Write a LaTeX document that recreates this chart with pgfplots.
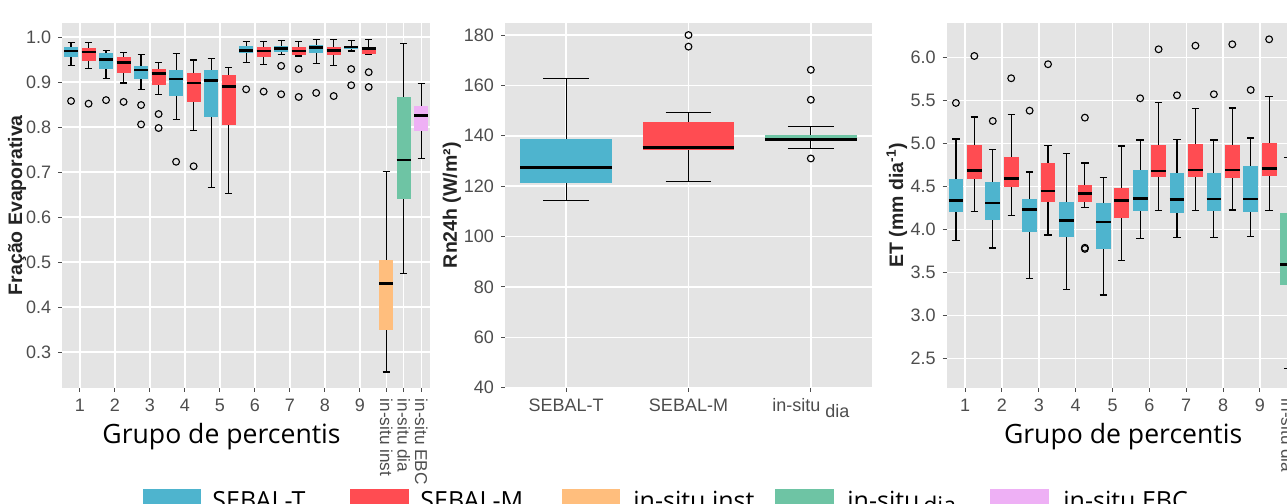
\documentclass[border=0pt]{standalone}
\usepackage{fontspec}
\setmainfont{Liberation Sans}
\newfontfamily\osans{Open Sans}
\usepackage{pgfplots}
\pgfplotsset{compat=1.18}
\usepgfplotslibrary{statistics}

\definecolor{cT}{RGB}{78,180,206}
\definecolor{cM}{RGB}{255,76,82}
\definecolor{cI}{RGB}{255,190,125}
\definecolor{cD}{RGB}{110,196,164}
\definecolor{cE}{RGB}{238,176,245}
\definecolor{bg}{RGB}{228,228,228}
\definecolor{tk}{RGB}{77,77,77}
\definecolor{ttl}{RGB}{35,35,35}

\def\bw{0.38}
\def\wx{0.19}
\newcommand{\bp}[8]{%
 \addplot[boxplot/draw direction=y,
  boxplot/every box/.style={fill=#1,draw=none},
  boxplot/every whisker/.style={black,line width=0.6pt},
  boxplot/every median/.style={black,line width=1.4pt},
  mark=o, mark size=1.7pt, mark options={black,line width=0.55pt,solid},
  boxplot prepared={draw position=#2, lower whisker=#3, lower quartile=#4,
   median=#5, upper quartile=#6, upper whisker=#7, box extend=\bw, whisker extend=\wx}]
  coordinates {#8};}

\pgfplotsset{gg/.style={
  scale only axis,
  axis background/.style={fill=bg},
  axis line style={draw=none},
  grid=major, major grid style={white,line width=0.7pt},
  tick align=outside, major tick length=2pt, tick style={tk,line width=0.5pt},
  xtick pos=left, ytick pos=left,
  ticklabel style={font=\fontsize{9}{10}\selectfont, text=tk},
  /pgf/number format/assume math mode=true,
  ylabel style={font=\fontsize{9.75}{11}\selectfont\bfseries, text=ttl, anchor=center},
  xlabel style={font=\osans\fontsize{13.3}{15}\selectfont, text=black, anchor=base},
  clip=true,
}}

\begin{document}
\begin{tikzpicture}
\path[use as bounding box] (0,0) rectangle (643.5pt,252pt);
\clip (0,0) rectangle (643.5pt,252pt);

% ---------------- Panel 1 ----------------
\begin{axis}[gg,
  at={(31.15pt,58.15pt)}, anchor=south west,
  width=183.85pt, height=182.5pt,
  xmin=0.5, xmax=11, ymin=0.221, ymax=1.032,
  xtick={1,2,3,4,5,6,7,8,9},
  ytick={0.3,0.4,0.5,0.6,0.7,0.8,0.9,1.0},
  yticklabel style={/pgf/number format/.cd,fixed,fixed zerofill,precision=1},
  extra x ticks={9.75,10.25,10.75},
  extra x tick labels={in-situ inst,in-situ dia,in-situ EBC},
  extra x tick style={grid=major, tick label style={rotate=-90,anchor=west,font=\fontsize{8.6}{9}\selectfont}},
  ylabel={Fração Evaporativa},
  ylabel style={at={(axis description cs:-0.123,0.5)}},
  xlabel={Grupo de percentis},
  xlabel style={at={(axis description cs:0.433,-0.154)}},
]
\bp{cT}{0.75}{0.936}{0.955}{0.969}{0.979}{0.988}{(0,0.858)}
\bp{cM}{1.25}{0.930}{0.947}{0.967}{0.975}{0.988}{(0,0.852)}
\bp{cT}{1.75}{0.908}{0.930}{0.950}{0.964}{0.970}{(0,0.860)}
\bp{cM}{2.25}{0.898}{0.921}{0.944}{0.955}{0.966}{(0,0.856)}
\bp{cT}{2.75}{0.884}{0.906}{0.927}{0.936}{0.962}{(0,0.849) (0,0.806)}
\bp{cM}{3.25}{0.873}{0.893}{0.919}{0.930}{0.944}{(0,0.829) (0,0.798)}
\bp{cT}{3.75}{0.817}{0.869}{0.907}{0.927}{0.964}{(0,0.723)}
\bp{cM}{4.25}{0.792}{0.856}{0.898}{0.921}{0.949}{(0,0.713)}
\bp{cT}{4.75}{0.665}{0.822}{0.903}{0.927}{0.953}{}
\bp{cM}{5.25}{0.653}{0.805}{0.891}{0.916}{0.933}{}
\bp{cT}{5.75}{0.944}{0.964}{0.971}{0.980}{0.990}{(0,0.884)}
\bp{cM}{6.25}{0.939}{0.956}{0.969}{0.977}{0.990}{(0,0.879)}
\bp{cT}{6.75}{0.962}{0.966}{0.974}{0.981}{0.993}{(0,0.936) (0,0.873)}
\bp{cM}{7.25}{0.958}{0.960}{0.969}{0.978}{0.991}{(0,0.929) (0,0.867)}
\bp{cT}{7.75}{0.942}{0.965}{0.976}{0.983}{0.995}{(0,0.876)}
\bp{cM}{8.25}{0.936}{0.960}{0.970}{0.979}{0.995}{(0,0.869)}
\bp{cT}{8.75}{0.969}{0.973}{0.978}{0.981}{0.993}{(0,0.929) (0,0.893)}
\bp{cM}{9.25}{0.961}{0.962}{0.974}{0.979}{0.995}{(0,0.922) (0,0.889)}
\def\bw{0.4}\def\wx{0.2}
\bp{cI}{9.75}{0.256}{0.349}{0.453}{0.504}{0.701}{}
\bp{cD}{10.25}{0.474}{0.640}{0.727}{0.866}{0.985}{}
\bp{cE}{10.75}{0.730}{0.791}{0.826}{0.847}{0.896}{}
\end{axis}

% ---------------- Panel 2 ----------------
\def\bw{0.75}\def\wx{0.375}
\begin{axis}[gg,
  at={(252.5pt,58.15pt)}, anchor=south west,
  width=183.5pt, height=182.5pt,
  xmin=0.5, xmax=3.5, ymin=40, ymax=184.9,
  xtick={1,2,3},
  xticklabels={SEBAL-T,SEBAL-M,{in-situ\raisebox{-0.6ex}{ dia}}},
  ytick={40,60,80,100,120,140,160,180},
  ylabel={Rn24h (W/m²)},
  ylabel style={at={(axis description cs:-0.145,0.5)}},
]
\bp{cT}{1}{114.2}{121.4}{127.5}{138.8}{162.6}{}
\bp{cM}{2}{121.8}{134.4}{135.3}{145.3}{149.3}{(0,180) (0,175.4)}
\bp{cD}{3}{134.8}{138.0}{138.6}{140.5}{143.6}{(0,166.2) (0,154.3) (0,131.0)}
\end{axis}

% ---------------- Panel 3 ----------------
\def\bw{0.4}\def\wx{0.2}
\begin{axis}[gg,
  at={(473.35pt,58.15pt)}, anchor=south west,
  width=179.65pt, height=182.5pt,
  xmin=0.5, xmax=10.25, ymin=2.158, ymax=6.402,
  xtick={1,2,3,4,5,6,7,8,9},
  ytick={2.5,3.0,3.5,4.0,4.5,5.0,5.5,6.0},
  yticklabel style={/pgf/number format/.cd,fixed,fixed zerofill,precision=1},
  extra x ticks={9.75},
  extra x tick labels={in-situ dia},
  extra x tick style={grid=major, tick label style={rotate=-90,anchor=west,font=\fontsize{8.6}{9}\selectfont}},
  ylabel={ET (mm dia\textsuperscript{-1})},
  ylabel style={at={(axis description cs:-0.139,0.5)}},
  xlabel={Grupo de percentis},
  xlabel style={at={(axis description cs:0.491,-0.154)}},
]
\bp{cT}{0.75}{3.867}{4.198}{4.337}{4.585}{5.05}{(0,5.469)}
\bp{cM}{1.25}{4.205}{4.588}{4.681}{4.977}{5.306}{(0,6.015)}
\bp{cT}{1.75}{3.783}{4.105}{4.306}{4.55}{4.926}{(0,5.259)}
\bp{cM}{2.25}{4.163}{4.488}{4.588}{4.84}{5.333}{(0,5.756)}
\bp{cT}{2.75}{3.43}{3.972}{4.233}{4.356}{4.666}{(0,5.379)}
\bp{cM}{3.25}{3.934}{4.314}{4.445}{4.774}{4.972}{(0,5.919)}
\bp{cT}{3.75}{3.298}{3.907}{4.1}{4.321}{4.884}{}
\bp{cM}{4.25}{4.256}{4.317}{4.419}{4.515}{4.771}{(0,5.298) (0,3.785) (0,3.772)}
\bp{cT}{4.75}{3.236}{3.767}{4.085}{4.31}{4.605}{}
\bp{cM}{5.25}{3.64}{4.131}{4.337}{4.48}{4.969}{}
\bp{cT}{5.75}{3.891}{4.209}{4.36}{4.69}{5.038}{(0,5.523)}
\bp{cM}{6.25}{4.216}{4.612}{4.678}{4.984}{5.477}{(0,6.093)}
\bp{cT}{6.75}{3.907}{4.193}{4.349}{4.651}{5.047}{(0,5.558)}
\bp{cM}{7.25}{4.216}{4.605}{4.69}{4.988}{5.402}{(0,6.135)}
\bp{cT}{7.75}{3.907}{4.216}{4.352}{4.658}{5.038}{(0,5.57)}
\bp{cM}{8.25}{4.224}{4.6}{4.69}{4.977}{5.41}{(0,6.151)}
\bp{cT}{8.75}{3.914}{4.205}{4.352}{4.736}{5.062}{(0,5.62)}
\bp{cM}{9.25}{4.216}{4.62}{4.709}{5.0}{5.542}{(0,6.209)}
\bp{cD}{9.75}{2.38}{3.352}{3.593}{4.186}{4.837}{}
\end{axis}

% ---------------- Legend ----------------
\begin{scope}[every node/.style={anchor=base west, inner sep=0pt, font=\osans\fontsize{12.5}{14}\selectfont}]
\fill[cT] (71.5pt,-6pt) rectangle (100.5pt,7.5pt);
\node at (106pt,-2.5pt) {SEBAL-T};
\fill[cM] (175pt,-6pt) rectangle (204.5pt,7.5pt);
\node at (210pt,-2.5pt) {SEBAL-M};
\fill[cI] (281pt,-6pt) rectangle (310pt,7.5pt);
\node at (316.5pt,-2.5pt) {in-situ inst};
\fill[cD] (387.5pt,-6pt) rectangle (417pt,7.5pt);
\node at (423.5pt,-2.5pt) {in-situ\raisebox{-0.3ex}{\fontsize{11.5}{12}\selectfont\,dia}};
\fill[cE] (495pt,-6pt) rectangle (524.5pt,7.5pt);
\node at (531.5pt,-2.5pt) {in-situ EBC};
\end{scope}
\end{tikzpicture}
\end{document}
